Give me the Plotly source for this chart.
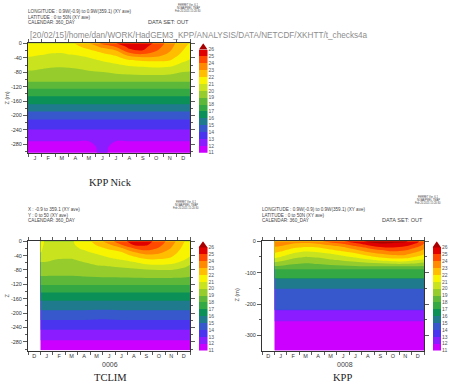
import plotly.graph_objects as go

# ---------------- categories / axis labels ----------------
MONTHS_1 = ["J", "F", "M", "A", "M", "J", "J", "A", "S", "O", "N", "D"]
MONTH_POS_1 = [15, 45, 75, 105, 135, 165, 195, 225, 255, 285, 315, 345]
MONTH_EDGES_1 = [0, 30, 60, 90, 120, 150, 180, 210, 240, 270, 300, 330, 360]
MONTHS_2 = ["D", "J", "F", "M", "A", "M", "J", "J", "A", "S", "O", "N", "D"]
MONTH_POS_2 = [-15, 15, 45, 75, 105, 135, 165, 195, 225, 255, 285, 315, 345]
MONTH_EDGES_2 = [-30, 0, 30, 60, 90, 120, 150, 180, 210, 240, 270, 300, 330, 360]

Z_TICKS_A = [0, -40, -80, -120, -160, -200, -240, -280]
Z_TICKTEXT_A = ["0", "-40", "-80", "-120", "-160", "-200", "-240", "-280"]
Z_MINOR_A = [-20, -60, -100, -140, -180, -220, -260, -300]
Z_TICKS_B = [0, -100, -200, -300]
Z_TICKTEXT_B = ["0", "-100", "-200", "-300"]
Z_MINOR_B = [-50, -150, -250, -350]

# colour-bar levels
LEVELS = [11, 12, 13, 14, 15, 16, 17, 18, 19, 20, 21, 22, 23, 24, 25, 26]
# band colours: <11, 11-12, ..., 25-26, >26
COLORS = ["#cc00ff", "#cc00ff", "#8a1cff", "#4a34f0", "#3658cc", "#1f7a8e",
          "#0b9158", "#34a843", "#5db83a", "#96cc2c", "#c9e41e", "#f8f400",
          "#ffbf00", "#ff8a00", "#ff4800", "#e00000", "#a80000"]

# time axis of the profiles (days of a 360-day year)
DAYS = [0, 15, 45, 75, 105, 135, 165, 195, 225, 255, 285, 315, 345, 360]

# ---------------- KPP Nick : temperature profiles ----------------
P1_DEPTH = [0, 10, 20, 30, 40, 50, 60, 70, 80, 90,
            98, 116, 136, 158, 179, 199, 223, 255, 288, 303]
P1_PROFILES = [
    [21.8, 21.59, 21.38, 21.17, 20.95, 20.68, 20.42, 20.16, 19.87, 19.55, 19.45, 18.5, 17.5, 16.5, 15.5, 14.5, 13.5, 12.5, 11.5, 11.4],
    [21.6, 21.43, 21.27, 21.1, 20.9, 20.64, 20.38, 20.13, 19.84, 19.55, 19.45, 18.5, 17.5, 16.5, 15.5, 14.5, 13.5, 12.5, 11.5, 11.4],
    [21.4, 21.27, 21.13, 20.98, 20.74, 20.47, 20.21, 19.95, 19.69, 19.55, 19.45, 18.5, 17.5, 16.5, 15.5, 14.5, 13.5, 12.5, 11.5, 11.4],
    [21.4, 21.26, 21.11, 20.95, 20.68, 20.42, 20.16, 19.9, 19.75, 19.6, 19.45, 18.5, 17.5, 16.5, 15.5, 14.5, 13.5, 12.5, 11.5, 11.4],
    [22.05, 21.73, 21.4, 21.07, 20.79, 20.53, 20.26, 19.98, 19.8, 19.6, 19.45, 18.5, 17.5, 16.5, 15.5, 14.5, 13.5, 12.5, 11.5, 11.4],
    [22.95, 22.32, 21.8, 21.4, 20.98, 20.72, 20.44, 20.17, 19.87, 19.6, 19.45, 18.5, 17.5, 16.5, 15.5, 14.5, 13.5, 12.5, 11.5, 11.4],
    [24.3, 23.2, 22.4, 21.8, 21.4, 20.98, 20.67, 20.33, 19.98, 19.6, 19.45, 18.5, 17.5, 16.5, 15.5, 14.5, 13.5, 12.5, 12.4, 12.4],
    [24.98, 23.98, 22.98, 22.25, 21.7, 21.26, 20.86, 20.5, 20.14, 19.8, 19.45, 18.5, 17.5, 16.5, 15.5, 14.5, 13.5, 12.5, 11.5, 11.4],
    [25.5, 25.28, 24.75, 23.55, 22.5, 21.7, 21.12, 20.68, 20.28, 19.85, 19.45, 18.5, 17.5, 16.5, 15.5, 14.5, 13.5, 12.5, 11.5, 11.4],
    [25.6, 25.3, 24.98, 23.98, 22.8, 21.88, 21.25, 20.75, 20.33, 19.9, 19.45, 18.5, 17.5, 16.5, 15.5, 14.5, 13.5, 12.5, 11.5, 11.4],
    [24.8, 24.44, 24.07, 23.5, 22.83, 21.98, 21.38, 20.82, 20.36, 19.9, 19.45, 18.5, 17.5, 16.5, 15.5, 14.5, 13.5, 12.5, 11.5, 11.4],
    [23.5, 23.3, 23.1, 22.78, 22.35, 21.88, 21.25, 20.73, 20.27, 19.85, 19.45, 18.5, 17.5, 16.5, 15.5, 14.5, 13.5, 12.5, 11.5, 11.4],
    [22.3, 22.15, 21.98, 21.7, 21.38, 21.06, 20.71, 20.36, 19.98, 19.7, 19.45, 18.5, 17.5, 16.5, 15.5, 14.5, 13.5, 12.5, 11.5, 11.4],
    [21.95, 21.74, 21.53, 21.32, 21.1, 20.85, 20.55, 20.24, 19.94, 19.6, 19.45, 18.5, 17.5, 16.5, 15.5, 14.5, 13.5, 12.5, 11.5, 11.4],
]

# ---------------- TCLIM : temperature profiles ----------------
P2_DEPTH = [0, 10, 20, 30, 40, 50, 60, 70, 80, 90,
            112, 132, 153, 178, 206, 232, 261, 290, 303]
P2_PROFILES = [
    [21.15, 21.11, 21.07, 21.03, 20.8, 20.3, 19.91, 19.68, 19.45, 19.23, 18.5, 17.5, 16.5, 15.5, 14.5, 13.5, 12.5, 11.5, 11.4],
    [20.9, 20.88, 20.85, 20.8, 20.6, 20.25, 19.9, 19.67, 19.44, 19.22, 18.5, 17.5, 16.5, 15.5, 14.5, 13.5, 12.5, 11.5, 11.4],
    [20.8, 20.78, 20.75, 20.6, 20.35, 19.98, 19.8, 19.6, 19.4, 19.2, 18.5, 17.5, 16.5, 15.5, 14.5, 13.5, 12.5, 11.5, 11.4],
    [20.9, 20.87, 20.8, 20.6, 20.3, 19.96, 19.78, 19.58, 19.4, 19.2, 18.5, 17.5, 16.5, 15.5, 14.5, 13.5, 12.5, 11.5, 11.4],
    [21.5, 21.35, 21.12, 20.85, 20.55, 20.25, 19.95, 19.73, 19.5, 19.28, 18.5, 17.5, 16.5, 15.5, 14.5, 13.5, 12.5, 11.5, 11.4],
    [22.4, 22.07, 21.65, 21.22, 20.84, 20.52, 20.2, 19.9, 19.65, 19.4, 18.5, 17.5, 16.5, 15.5, 14.4, 13.5, 12.5, 11.5, 11.4],
    [23.6, 22.85, 22.13, 21.65, 21.22, 20.8, 20.4, 19.98, 19.7, 19.45, 18.5, 17.5, 16.5, 15.5, 14.4, 13.5, 12.5, 11.5, 11.4],
    [24.7, 23.98, 22.83, 21.98, 21.55, 21.09, 20.6, 20.1, 19.75, 19.5, 18.5, 17.5, 16.5, 15.5, 14.5, 13.5, 12.5, 11.5, 11.4],
    [25.4, 25.07, 23.98, 22.98, 22.17, 21.5, 20.88, 20.3, 19.8, 19.55, 18.5, 17.5, 16.5, 15.5, 14.5, 13.5, 12.5, 11.5, 11.4],
    [25.4, 25.13, 24.5, 23.55, 22.71, 21.98, 21.29, 20.57, 19.9, 19.6, 18.5, 17.5, 16.5, 15.5, 14.5, 13.5, 12.5, 11.5, 11.4],
    [24.6, 24.33, 23.88, 23.29, 22.67, 21.98, 21.38, 20.71, 19.98, 19.6, 18.5, 17.5, 16.5, 15.5, 14.5, 13.5, 12.5, 11.5, 11.4],
    [23.5, 23.22, 22.93, 22.56, 22.19, 21.74, 21.21, 20.62, 19.98, 19.6, 18.5, 17.5, 16.5, 15.5, 14.5, 13.5, 12.5, 11.5, 11.4],
    [22.1, 21.9, 21.7, 21.5, 21.3, 21.1, 20.72, 20.17, 19.75, 19.5, 18.5, 17.5, 16.5, 15.5, 14.5, 13.5, 12.5, 11.5, 11.4],
    [21.6, 21.47, 21.33, 21.2, 21.07, 20.75, 20.25, 19.85, 19.6, 19.35, 18.5, 17.5, 16.5, 15.5, 14.5, 13.5, 12.5, 11.5, 11.4],
]

# ---------------- KPP : temperature profiles ----------------
P3_DEPTH = [0, 5, 10, 20, 30, 40, 50, 60, 70, 80, 88,
            90, 117, 119, 150, 152, 218, 220, 254, 256, 348]
P3_PROFILES = [
    [23.7, 23.51, 23.31, 22.9, 22.4, 21.88, 21.29, 20.58, 19.73, 18.9, 18.5, 17.5, 17.5, 15.5, 15.5, 14.5, 14.5, 12.5, 12.5, 11.5, 11.5],
    [23.6, 23.41, 23.23, 22.76, 22.18, 21.59, 20.98, 20.29, 19.54, 18.86, 18.5, 17.5, 17.5, 15.5, 15.5, 14.5, 14.5, 12.5, 12.5, 11.5, 11.5],
    [23.3, 23.11, 22.86, 22.14, 21.5, 20.88, 20.29, 19.71, 19.12, 18.75, 18.5, 17.5, 17.5, 15.5, 15.5, 14.5, 14.5, 12.5, 12.5, 11.5, 11.5],
    [23.3, 23.05, 22.67, 21.86, 21.14, 20.56, 19.98, 19.5, 18.98, 18.72, 18.5, 17.5, 17.5, 15.5, 15.5, 14.5, 14.5, 12.5, 12.5, 11.5, 11.5],
    [23.8, 23.3, 22.83, 21.98, 21.29, 20.67, 20.11, 19.6, 19.1, 18.75, 18.5, 17.5, 17.5, 15.5, 15.5, 14.5, 14.5, 12.5, 12.5, 11.5, 11.5],
    [24.4, 23.88, 23.25, 22.43, 21.71, 20.98, 20.44, 19.88, 19.25, 18.78, 18.5, 17.5, 17.5, 15.5, 15.5, 14.5, 14.5, 12.5, 12.5, 11.5, 11.5],
    [24.95, 24.36, 23.8, 22.86, 22.14, 21.43, 20.75, 20.13, 19.43, 18.83, 18.5, 17.5, 17.5, 15.5, 15.5, 14.5, 14.5, 12.5, 12.5, 11.5, 11.5],
    [25.6, 25.1, 24.5, 23.5, 22.67, 21.86, 21.14, 20.38, 19.62, 18.9, 18.5, 17.5, 17.5, 15.5, 15.5, 14.5, 14.5, 12.5, 12.5, 11.5, 11.5],
    [26.2, 25.88, 25.25, 24.2, 23.33, 22.5, 21.67, 20.8, 19.83, 18.98, 18.5, 17.5, 17.5, 15.5, 15.5, 14.5, 14.5, 12.5, 12.5, 11.5, 11.5],
    [26.4, 26.15, 25.8, 24.8, 23.83, 22.98, 22.17, 21.2, 19.98, 18.98, 18.5, 17.5, 17.5, 15.5, 15.5, 14.5, 14.5, 12.5, 12.5, 11.5, 11.5],
    [26.2, 26.03, 25.71, 24.98, 24.17, 23.33, 22.5, 21.5, 20.25, 18.98, 18.5, 17.5, 17.5, 15.5, 15.5, 14.5, 14.5, 12.5, 12.5, 11.5, 11.5],
    [26.2, 25.92, 25.5, 24.71, 23.98, 23.29, 22.45, 21.44, 20.25, 18.98, 18.5, 17.5, 17.5, 15.5, 15.5, 14.5, 14.5, 12.5, 12.5, 11.5, 11.5],
    [25.2, 24.98, 24.62, 23.88, 23.25, 22.57, 21.83, 20.98, 19.98, 18.95, 18.5, 17.5, 17.5, 15.5, 15.5, 14.5, 14.5, 12.5, 12.5, 11.5, 11.5],
    [24.3, 24.11, 23.89, 23.33, 22.75, 22.13, 21.47, 20.82, 19.8, 18.9, 18.5, 17.5, 17.5, 15.5, 15.5, 14.5, 14.5, 12.5, 12.5, 11.5, 11.5],
]

# ---------------- figure helpers ----------------
W, H = 449, 386


def fx(px):
    return px / W


def fy(py):
    return 1 - py / H


n = len(COLORS) - 1
COLORSCALE = []
for k, c in enumerate(COLORS):
    COLORSCALE.append([max(0.0, (k - 0.5) / n), c])
    COLORSCALE.append([min(1.0, (k + 0.5) / n), c])

AXC = "#333333"
SANS = "Liberation Sans"
SERIF = "Liberation Serif"

panels = [
    dict(depth=P1_DEPTH, prof=P1_PROFILES, xr=[0, 360], yr=[-303, 0],
         xd=(28, 190), yd=(41, 152), cbx=(199, 207.5),
         mt=MONTH_POS_1, ml=MONTHS_1, me=MONTH_EDGES_1,
         zt=Z_TICKS_A, ztt=Z_TICKTEXT_A, zm=Z_MINOR_A),
    dict(depth=P2_DEPTH, prof=P2_PROFILES, xr=[-30, 360], yr=[-304, 0],
         xd=(28, 190), yd=(242, 353), cbx=(198.5, 207.5),
         mt=MONTH_POS_2, ml=MONTHS_2, me=MONTH_EDGES_2,
         zt=Z_TICKS_A, ztt=Z_TICKTEXT_A, zm=Z_MINOR_A),
    dict(depth=P3_DEPTH, prof=P3_PROFILES, xr=[-30, 360], yr=[-348, 0],
         xd=(262, 424), yd=(242, 353), cbx=(432.5, 441),
         mt=MONTH_POS_2, ml=MONTHS_2, me=MONTH_EDGES_2,
         zt=Z_TICKS_B, ztt=Z_TICKTEXT_B, zm=Z_MINOR_B),
]

fig = go.Figure()
layout_axes = {}

for i, p in enumerate(panels):
    ax_id = "" if i == 0 else str(i + 1)
    cb_id = str(i + 4)
    z = [list(row) for row in zip(*p["prof"])]
    fig.add_trace(go.Contour(
        x=DAYS, y=[-d for d in p["depth"]], z=z,
        xaxis="x" + ax_id, yaxis="y" + ax_id,
        colorscale=COLORSCALE, zmin=10.5, zmax=26.5,
        autocontour=False,
        contours=dict(start=11, end=26, size=1, coloring="fill", showlines=False),
        line=dict(width=0), showscale=False, hoverinfo="skip"))

    layout_axes["xaxis" + ax_id] = dict(
        domain=[fx(p["xd"][0]), fx(p["xd"][1])], range=p["xr"],
        anchor="y" + ax_id, tickmode="array", tickvals=p["mt"], ticktext=p["ml"],
        ticks="", showline=True, linecolor=AXC, linewidth=1, mirror="ticks",
        showgrid=False, zeroline=False,
        tickfont=dict(size=5.5, family=SANS, color=AXC),
        minor=dict(tickmode="array", tickvals=p["me"], ticks="outside",
                   ticklen=3, tickcolor=AXC, tickwidth=0.8, showgrid=False))
    layout_axes["yaxis" + ax_id] = dict(
        domain=[fy(p["yd"][1]), fy(p["yd"][0])], range=p["yr"],
        anchor="x" + ax_id, tickmode="array", tickvals=p["zt"], ticktext=p["ztt"],
        ticks="outside", ticklen=4, tickcolor=AXC, tickwidth=0.8,
        showline=True, linecolor=AXC, linewidth=1, mirror="ticks",
        showgrid=False, zeroline=False,
        tickfont=dict(size=5.5, family=SANS, color=AXC),
        minor=dict(tickmode="array", tickvals=p["zm"], ticks="outside",
                   ticklen=2, tickcolor=AXC, tickwidth=0.8, showgrid=False))

    # colour bar: one box per level interval plus an "over" triangle
    fig.add_trace(go.Bar(
        x=[0.5] * (len(LEVELS) - 1), y=[1] * (len(LEVELS) - 1), base=LEVELS[:-1],
        width=1, marker=dict(color=COLORS[1:-1], line=dict(width=0)),
        xaxis="x" + cb_id, yaxis="y" + cb_id, showlegend=False, hoverinfo="skip"))
    fig.add_trace(go.Scatter(
        x=[0, 0.5, 1, 0], y=[LEVELS[-1], LEVELS[-1] + 0.9, LEVELS[-1], LEVELS[-1]],
        xaxis="x" + cb_id, yaxis="y" + cb_id, mode="lines", fill="toself",
        fillcolor=COLORS[-1], line=dict(width=0, color=COLORS[-1]),
        showlegend=False, hoverinfo="skip"))
    layout_axes["xaxis" + cb_id] = dict(
        domain=[fx(p["cbx"][0]), fx(p["cbx"][1])], range=[0, 1],
        anchor="y" + cb_id, visible=False)
    layout_axes["yaxis" + cb_id] = dict(
        domain=[fy(p["yd"][1]), fy(p["yd"][0])], range=[11, 26.9],
        anchor="x" + cb_id, side="right", tickmode="array",
        tickvals=LEVELS, ticktext=[str(v) for v in LEVELS], ticks="",
        showline=False, showgrid=False, zeroline=False,
        tickfont=dict(size=5, family=SANS, color="#555555"))

ann = []


def txt(x, y, s, size, anchor="left", color="#444444", family=SANS, angle=0):
    ann.append(dict(x=fx(x), y=fy(y), xref="paper", yref="paper", text=s,
                    showarrow=False, xanchor=anchor, yanchor="middle",
                    textangle=angle, borderpad=0,
                    font=dict(size=size, family=family, color=color)))


# panel 1 header
txt(27, 9, "LONGITUDE : 0.9W(-0.9) to 0.9W(359.1) (XY ave)", 4.6)
txt(27, 14.5, "LATITUDE : 0 to 50N (XY ave)", 4.6)
txt(27, 20, "CALENDAR: 360_DAY", 4.6)
txt(147, 19.5, "DATA SET: OUT", 5.6)
txt(188, 2, "FERRET Ver. 6.1", 2.6, "center")
txt(188, 5, "NOAA/PMEL TMAP", 2.6, "center")
txt(188, 8, "Feb 20 2015 15:20:30", 2.6, "center")
txt(29, 33, "[20/02/15]/home/dan/WORK/HadGEM3_KPP/ANALYSIS/DATA/NETCDF/XKHTT/t_checks4a",
    8.2, color="#8c8c8c")
txt(7, 97, "Z (m)", 5.5, "center", angle=-90)
txt(110, 182, "KPP Nick", 10.5, "center", color="#222222", family=SERIF)

# panel 2 header
txt(27, 210, "X : -0.9 to 359.1 (XY ave)", 4.6)
txt(27, 215.5, "Y : 0 to 50 (XY ave)", 4.6)
txt(27, 221, "CALENDAR: 360_DAY", 4.6)
txt(186, 202, "FERRET Ver. 6.1", 2.6, "center")
txt(186, 205, "NOAA/PMEL TMAP", 2.6, "center")
txt(186, 208, "Feb 20 2015 15:20:30", 2.6, "center")
txt(7, 297, "Z", 5.5, "center", angle=-90)
txt(110, 367, "0006", 7, "center")
txt(110, 380, "TCLIM", 10.5, "center", color="#222222", family=SERIF)

# panel 3 header
txt(261, 210, "LONGITUDE : 0.9W(-0.9) to 0.9W(359.1) (XY ave)", 4.6)
txt(261, 215.5, "LATITUDE : 0 to 50N (XY ave)", 4.6)
txt(261, 221, "CALENDAR: 360_DAY", 4.6)
txt(381, 220.5, "DATA SET: OUT", 5.6)
txt(428, 197, "FERRET Ver. 6.1", 2.6, "center")
txt(428, 200, "NOAA/PMEL TMAP", 2.6, "center")
txt(428, 203, "Feb 20 2015 15:20:30", 2.6, "center")
txt(237, 296, "Z (m)", 5.5, "center", angle=-90)
txt(345, 367, "0008", 7, "center")
txt(342, 380, "KPP", 10.5, "center", color="#222222", family=SERIF)

fig.update_layout(
    width=W, height=H, autosize=False,
    margin=dict(l=0, r=0, t=0, b=0),
    paper_bgcolor="white", plot_bgcolor="white",
    barmode="overlay", bargap=0, hovermode=False,
    showlegend=False, annotations=ann, **layout_axes)

fig.write_html("out.html",
               config={"displayModeBar": False, "staticPlot": True},
               post_script="document.body.style.margin='0px';"
                           "document.body.style.overflow='hidden';")
